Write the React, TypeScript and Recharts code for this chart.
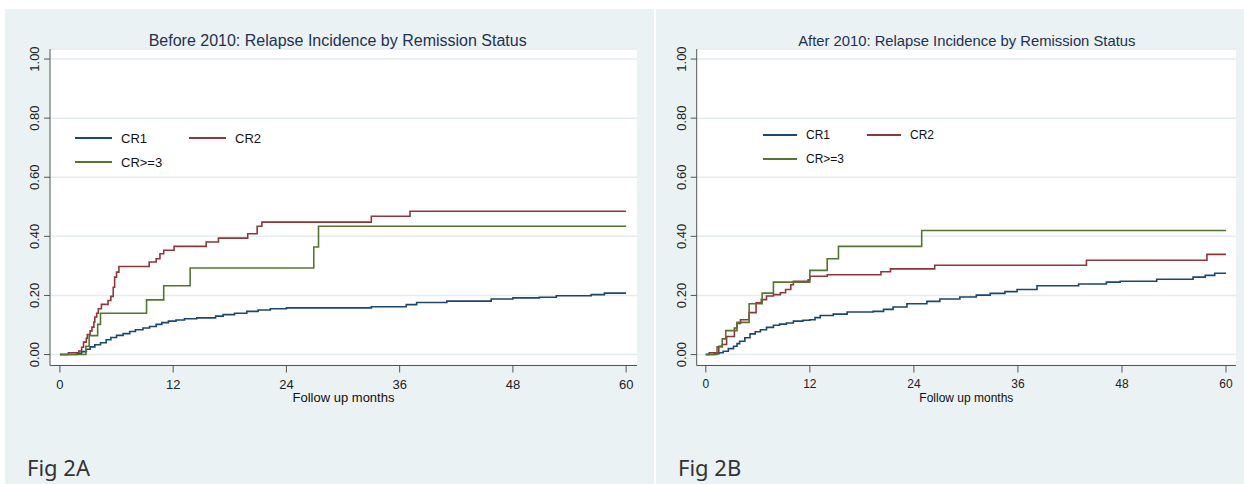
import React from 'react';
import { LineChart, Line, XAxis, YAxis, CartesianGrid } from 'recharts';

// follow-up months (x) and cumulative incidence (y)
const beforeCr1Months = [0, 1.8, 2.3, 2.8, 3.2, 3.7, 4.3, 4.9, 5.4, 6.0, 6.7, 7.4, 8.0, 8.8, 9.5, 10.2, 10.8, 11.5, 12.3, 13.2, 14.5, 16.5, 17.3, 18.5, 19.8, 21.0, 22.3, 24.0, 33.0, 36.7, 37.8, 41.0, 45.7, 48.0, 50.8, 52.6, 56.3, 57.7, 60];
const beforeCr1Values = [0, 0.004, 0.01, 0.018, 0.026, 0.033, 0.04, 0.05, 0.058, 0.065, 0.071, 0.078, 0.084, 0.09, 0.095, 0.102, 0.108, 0.113, 0.117, 0.121, 0.124, 0.13, 0.135, 0.14, 0.146, 0.151, 0.155, 0.158, 0.162, 0.169, 0.176, 0.181, 0.188, 0.192, 0.194, 0.199, 0.203, 0.208, 0.208];

const beforeCr2Months = [0, 0.9, 2.0, 2.3, 2.5, 2.8, 2.9, 3.2, 3.4, 3.6, 3.7, 3.9, 4.07, 4.4, 5.1, 5.4, 5.65, 5.8, 6.0, 6.25, 9.46, 10.2, 10.6, 11.0, 12.1, 15.5, 16.8, 19.9, 20.9, 21.4, 33.0, 37.1, 60];
const beforeCr2Values = [0, 0.006, 0.012, 0.025, 0.042, 0.055, 0.068, 0.08, 0.093, 0.11, 0.127, 0.14, 0.155, 0.17, 0.183, 0.197, 0.228, 0.262, 0.279, 0.298, 0.313, 0.324, 0.341, 0.353, 0.366, 0.381, 0.394, 0.409, 0.434, 0.448, 0.468, 0.485, 0.485];

const beforeCr3Months = [0, 2.75, 3.1, 4.0, 4.3, 9.18, 11.0, 13.8, 26.9, 27.4, 60];
const beforeCr3Values = [0, 0.028, 0.064, 0.102, 0.14, 0.185, 0.233, 0.293, 0.364, 0.434, 0.434];

const afterCr1Months = [0, 1.0, 1.5, 2.0, 2.6, 3.2, 3.6, 3.9, 4.5, 5.1, 5.7, 6.3, 7.0, 7.8, 8.5, 9.3, 10.1, 11.2, 12.0, 12.6, 13.2, 14.7, 16.3, 19.3, 20.5, 21.6, 23.2, 25.5, 27.0, 29.3, 31.2, 32.8, 34.5, 35.9, 38.2, 43.0, 46.2, 47.8, 52.0, 56.2, 57.6, 58.7, 60];
const afterCr1Values = [0, 0.003, 0.006, 0.011, 0.02, 0.028, 0.037, 0.045, 0.057, 0.07, 0.077, 0.084, 0.092, 0.099, 0.103, 0.107, 0.113, 0.116, 0.118, 0.125, 0.132, 0.137, 0.144, 0.146, 0.153, 0.161, 0.172, 0.18, 0.188, 0.195, 0.201, 0.207, 0.213, 0.22, 0.233, 0.239, 0.245, 0.248, 0.255, 0.262, 0.268, 0.275, 0.275];

const afterCr2Months = [0, 0.4, 1.5, 1.9, 2.4, 3.3, 3.6, 4.0, 5.0, 5.8, 6.4, 7.0, 7.8, 8.6, 9.2, 9.8, 10.1, 11.8, 12.0, 14.0, 20.2, 21.3, 26.4, 43.9, 57.8, 60];
const afterCr2Values = [0, 0.006, 0.028, 0.034, 0.061, 0.09, 0.105, 0.118, 0.142, 0.175, 0.186, 0.198, 0.203, 0.209, 0.22, 0.236, 0.248, 0.253, 0.265, 0.27, 0.28, 0.29, 0.302, 0.319, 0.339, 0.339];

const afterCr3Months = [0, 1.3, 1.9, 2.3, 3.6, 5.0, 6.5, 7.8, 12.0, 14.0, 15.3, 24.9, 60];
const afterCr3Values = [0, 0.026, 0.053, 0.081, 0.109, 0.172, 0.208, 0.245, 0.285, 0.324, 0.366, 0.42, 0.42];

const xTicks = [0, 12, 24, 36, 48, 60];
const yTicks = [0, 0.2, 0.4, 0.6, 0.8, 1.0];
const seriesNames = ['CR1', 'CR2', 'CR>=3'];
const seriesColors = ['#1A476F', '#90353B', '#55752F'];

const toPoints = (months: number[], values: number[]) =>
  months.map((m, i) => ({ m, v: values[i] }));

const FONT = '"Liberation Sans", Arial, sans-serif';
const BG = '#EAF2F3';

const RotTick = ({ x, y, payload, fontSize }: any) => (
  <text
    x={x}
    y={y}
    transform={`rotate(-90 ${x} ${y})`}
    textAnchor="middle"
    fontSize={fontSize}
    fontFamily={FONT}
    fill="#222"
  >
    {Number(payload.value).toFixed(2)}
  </text>
);

interface PanelProps {
  left: number;
  width: number;
  yAxisWidth: number;
  marginRight: number;
  title: string;
  titleX: number;
  titleSize: number;
  fontSize: number;
  series: { m: number; v: number }[][];
  legendX: number;
  legendY: number;
  legendLine: number;
  legendCol: number;
  fig: string;
}

function Panel(p: PanelProps) {
  const legendPos = [
    [0, 0],
    [p.legendCol, 0],
    [0, 24],
  ];
  return (
    <div style={{ position: 'absolute', left: p.left, top: 9, width: p.width, height: 475, background: BG, overflow: 'hidden' }}>
      <LineChart width={p.width} height={475} margin={{ top: 40, right: p.marginRight, left: 0, bottom: 78.5 }}>
        <CartesianGrid vertical={false} fill="#fff" stroke="#E4ECEE" strokeWidth={1.5} />
        <XAxis
          type="number"
          dataKey="m"
          domain={[-1.05, 61.15]}
          ticks={xTicks}
          allowDataOverflow
          height={40}
          stroke="#555"
          tickSize={7}
          tickMargin={7}
          tick={{ fill: '#222', fontSize: p.fontSize, fontFamily: FONT }}
          label={{ value: 'Follow up months', position: 'insideBottom', offset: 4, fill: '#111', fontSize: p.fontSize, fontFamily: FONT }}
        />
        <YAxis
          type="number"
          domain={[-0.037, 1.034]}
          ticks={yTicks}
          allowDataOverflow
          width={p.yAxisWidth}
          stroke="#555"
          tickSize={6}
          tickMargin={4.5}
          tick={<RotTick fontSize={13} />}
        />
        {p.series.map((d, i) => (
          <Line
            key={seriesNames[i]}
            data={d}
            dataKey="v"
            name={seriesNames[i]}
            type="stepAfter"
            stroke={seriesColors[i]}
            strokeWidth={1.6}
            dot={false}
            isAnimationActive={false}
          />
        ))}
      </LineChart>
      <div
        style={{
          position: 'absolute',
          left: p.titleX - 250,
          width: 500,
          top: 48 - 9 - p.titleSize,
          textAlign: 'center',
          fontFamily: FONT,
          fontSize: p.titleSize,
          lineHeight: `${p.titleSize + 2}px`,
          color: '#1E3152',
        }}
      >
        {p.title}
      </div>
      {seriesNames.map((name, i) => (
        <div
          key={name}
          style={{
            position: 'absolute',
            left: p.legendX + legendPos[i][0],
            top: p.legendY + legendPos[i][1] - 8,
            height: 16,
            display: 'flex',
            alignItems: 'center',
            fontFamily: FONT,
            fontSize: p.fontSize,
            color: '#111',
            whiteSpace: 'nowrap',
          }}
        >
          <span style={{ display: 'inline-block', width: p.legendLine, height: 2, background: seriesColors[i], marginRight: 9 }} />
          {name}
        </div>
      ))}
      <div
        style={{
          position: 'absolute',
          left: 22,
          top: 443,
          fontFamily: '"Noto Sans", sans-serif',
          fontSize: 22,
          lineHeight: '30px',
          color: '#333',
        }}
      >
        {p.fig}
      </div>
    </div>
  );
}

export default function App() {
  return (
    <div style={{ position: 'fixed', left: 0, top: 0, width: 1244, height: 484, background: '#fff', overflow: 'hidden' }}>
      <Panel
        left={5}
        width={649}
        yAxisWidth={45}
        marginRight={17}
        title="Before 2010: Relapse Incidence by Remission Status"
        titleX={332.7}
        titleSize={16}
        fontSize={13}
        series={[
          toPoints(beforeCr1Months, beforeCr1Values),
          toPoints(beforeCr2Months, beforeCr2Values),
          toPoints(beforeCr3Months, beforeCr3Values),
        ]}
        legendX={70}
        legendY={129}
        legendLine={37}
        legendCol={114}
        fig="Fig 2A"
      />
      <Panel
        left={656}
        width={588}
        yAxisWidth={40.7}
        marginRight={8}
        title="After 2010: Relapse Incidence by Remission Status"
        titleX={310.8}
        titleSize={14.8}
        fontSize={12}
        series={[
          toPoints(afterCr1Months, afterCr1Values),
          toPoints(afterCr2Months, afterCr2Values),
          toPoints(afterCr3Months, afterCr3Values),
        ]}
        legendX={107}
        legendY={126}
        legendLine={34}
        legendCol={104}
        fig="Fig 2B"
      />
    </div>
  );
}
